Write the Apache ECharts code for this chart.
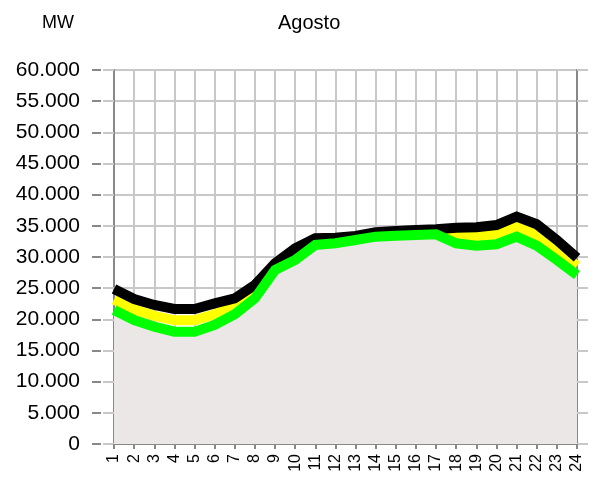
<!DOCTYPE html>
<html><head><meta charset="utf-8">
<script src="https://cdn.jsdelivr.net/npm/echarts@6/dist/echarts.min.js"></script>
<style>html,body{margin:0;padding:0;background:#fff}#c{width:605px;height:477px}</style>
</head><body><div id="c"></div>
<script>
var hours = ['1','2','3','4','5','6','7','8','9','10','11','12','13','14','15','16','17','18','19','20','21','22','23','24'];
var blackLine = [24870,23260,22300,21660,21660,22570,23370,25510,28990,31400,33000,33100,33370,33960,34170,34330,34440,34700,34770,35130,36470,35250,32730,29890];
var yellowLine = [23180,21580,20570,19850,19850,20820,22090,24430,28440,30450,32450,32650,33050,33610,33800,33930,34040,33450,33290,33580,34860,33530,31120,28560];
var greenLine = [21500,19890,18820,18020,18020,19090,20810,23370,27910,29520,31930,32200,32730,33260,33420,33530,33640,32200,31810,32040,33260,31810,29520,27110];
var yMin = 0, yMax = 60000, yStep = 5000;
var title = 'Agosto', unit = 'MW';

function fmt(v){ return String(v).replace(/\B(?=(\d{3})+(?!\d))/g, '.'); }
var FONT = 'Liberation Sans, Arial, sans-serif';
var chart = echarts.init(document.getElementById('c'), null, {renderer:'canvas'});
chart.setOption({
  animation:false,
  backgroundColor:'#fff',
  title:[
    {text:title, left:273, top:8, textStyle:{fontFamily:FONT, fontSize:20, fontWeight:'normal', color:'#000'}},
    {text:unit, left:37, top:9, textStyle:{fontFamily:FONT, fontSize:18, fontWeight:'normal', color:'#000'}}
  ],
  grid:{left:114, right:28, top:70, bottom:33, containLabel:false},
  xAxis:{type:'category', data:hours, boundaryGap:false,
    axisLine:{show:true, lineStyle:{color:'#888', width:2}},
    axisTick:{show:true, interval:0, length:5, lineStyle:{color:'#888', width:2}},
    axisLabel:{rotate:90, interval:0, fontFamily:FONT, fontSize:16, color:'#000', margin:10},
    splitLine:{show:true, interval:0, lineStyle:{color:'#c8c8c8', width:2}}
  },
  yAxis:[
    {type:'value', min:yMin, max:yMax, interval:yStep, position:'left',
      axisLine:{show:true, lineStyle:{color:'#888', width:2}},
      axisTick:{show:true, length:11, lineStyle:{color:'#c8c8c8', width:2}},
      axisLabel:{show:false},
      splitLine:{show:true, lineStyle:{color:'#c8c8c8', width:2}}
    },
    {type:'value', min:yMin, max:yMax, interval:yStep, position:'left', offset:13,
      axisLine:{show:false},
      axisTick:{show:true, length:9, lineStyle:{color:'#888', width:2}},
      axisLabel:{show:true, fontFamily:FONT, fontSize:21, color:'#000', margin:21, formatter:fmt},
      splitLine:{show:false}
    },
    {type:'value', min:yMin, max:yMax, interval:yStep, position:'right',
      axisLine:{show:true, lineStyle:{color:'#888', width:2}},
      axisTick:{show:true, length:11, lineStyle:{color:'#c8c8c8', width:2}},
      axisLabel:{show:false},
      splitLine:{show:false}
    }
  ],
  series:[
    {type:'line', data:greenLine, symbol:'none', z:1, lineStyle:{width:0, opacity:0}, areaStyle:{color:'#ebe7e7', opacity:1}},
    {type:'line', data:yellowLine, symbol:'none', z:2, lineStyle:{width:10, color:'#ffff00', cap:'butt', join:'miter'}},
    {type:'line', data:blackLine, symbol:'none', z:3, lineStyle:{width:10, color:'#000000', cap:'butt', join:'miter'}},
    {type:'line', data:greenLine, symbol:'none', z:4, lineStyle:{width:10, color:'#00ff00', cap:'butt', join:'miter'}}
  ]
});
</script></body></html>
